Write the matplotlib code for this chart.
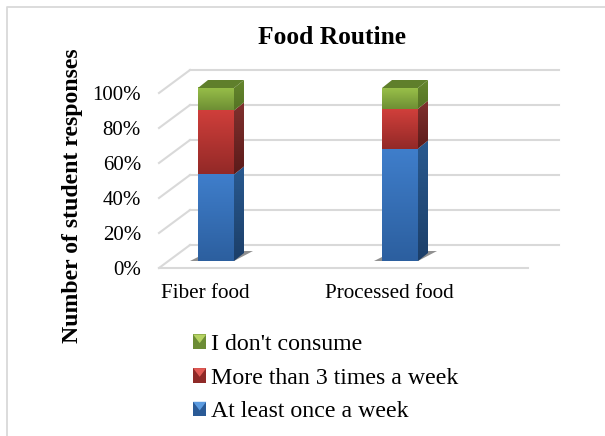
import numpy as np
import matplotlib
matplotlib.use("Agg")
import matplotlib.pyplot as plt
from matplotlib.colors import LinearSegmentedColormap
from matplotlib.legend_handler import HandlerBase
from matplotlib.patches import Patch, Polygon, Rectangle
from matplotlib.transforms import Affine2D

categories = ["Fiber food", "Processed food"]
series_names = ["At least once a week", "More than 3 times a week", "I don't consume"]
at_least_once = [50, 65]
more_than_3 = [37, 23]
dont_consume = [13, 12]
y_ticks = [0, 20, 40, 60, 80, 100]

# front light/dark, side light/dark for each series
front_cols = [("#3f7ecb", "#2c5f9f"), ("#d03f3b", "#932927"), ("#98bf49", "#6e8f34")]
side_cols = [("#29598f", "#1c3f69"), ("#80312e", "#5c1b1a"), ("#66872e", "#557324")]
top_col = "#5f7f2b"
swatch_cols = [("#5b9be0", "#2a5a96"), ("#e25a55", "#8f2a28"), ("#b5d262", "#6c8c35")]

W, H = 605, 436
DPI = 100
DEPTH = (31, 23)      # wall offset behind the front plane
BAR_SIDE = (10, 8)    # visible depth of a bar

plt.rcParams["font.family"] = ["Liberation Serif", "DejaVu Serif"]
fig = plt.figure(figsize=(W / DPI, H / DPI), dpi=DPI)


def px_axes(left, right, top, bottom):
    return fig.add_axes([left / W, 1 - bottom / H, (right - left) / W, (bottom - top) / H])


# light grey page frame
fig.add_artist(plt.Line2D([6.5 / W, 6.5 / W, 1], [0, 1 - 7.5 / H, 1 - 7.5 / H],
                          color="#d9d9d9", lw=1.3, transform=fig.transFigure))

# front plane carries the percent scale
ax = px_axes(159, 528, 93, 268)
ax.set_xlim(0, 2)
ax.set_ylim(0, 100)
ax.patch.set_visible(False)
for s in ax.spines.values():
    s.set_visible(False)
ax.set_xticks([0.25, 1.25], categories, fontsize=15.2)
ax.set_yticks(y_ticks, [f"{t}%" for t in y_ticks], fontsize=15)
ax.tick_params(length=0)
ax.tick_params(axis="x", pad=11.5)
ax.tick_params(axis="y", pad=13)
fig.text(72.5 / W, 1 - 196 / H, "Number of student responses", fontsize=17.1, fontweight="bold",
         rotation=90, ha="center", va="center")
fig.text(332 / W, 1 - 37 / H, "Food Routine", fontsize=18.4, fontweight="bold", ha="center", va="center")

wall = ax.transData + Affine2D().translate(DEPTH[0], DEPTH[1])
grid_col = "#d9d9d9"
for t in y_ticks:
    x0, y0 = ax.transData.transform((0, t))
    pts = np.array([[x0, y0], [x0 + DEPTH[0], y0 + DEPTH[1]]])
    ax.plot(pts[:, 0], pts[:, 1], color=grid_col, lw=1.5, transform=None, clip_on=False, zorder=1)
    ax.plot([0, 2.0], [t, t], color=grid_col, lw=1.5, transform=wall, clip_on=False, zorder=1)
ax.plot([0, 2], [0, 0], color=grid_col, lw=1.5, clip_on=False, zorder=1)

# bars stand a little behind the front plane on a slightly smaller scale
bx = px_axes(159, 528, 88, 261)
bx.set_xlim(0, 2)
bx.set_ylim(0, 100)
bx.axis("off")

bar_left = [(198 - 159) / 184.5, (382 - 159) / 184.5]
bar_w = 36 / 184.5


def gradient(target, c_top, c_bottom, extent):
    cmap = LinearSegmentedColormap.from_list("g", [c_top, c_bottom])
    im = bx.imshow(np.linspace(0, 1, 64).reshape(-1, 1), cmap=cmap, extent=extent, aspect="auto",
                   origin="upper", zorder=3, interpolation="bilinear")
    im.set_clip_path(target)
    # the side faces rise above the axes box
    im.set_clip_box(fig.bbox)


for i, left in enumerate(bar_left):
    x0, y0 = bx.transData.transform((left, 0))
    x1, _ = bx.transData.transform((left + bar_w, 0))
    # floor shadow, wider on the right and peeking out on the left
    shadow = Polygon([[x0 - 8, y0], [x1, y0], [x1 + 19, y0 + 10], [x1 + 6, y0 + 10], [x0, y0 + 4]],
                     closed=True, transform=None, fc="#555555", alpha=0.65, ec="none", zorder=2,
                     clip_on=False)
    bx.add_patch(shadow)
    base = 0
    for j, vals in enumerate([at_least_once, more_than_3, dont_consume]):
        top = base + vals[i]
        _, yb = bx.transData.transform((left, base))
        _, yt = bx.transData.transform((left, top))
        face = Rectangle((left, base), bar_w, vals[i], fc="none", ec="none", zorder=3)
        bx.add_patch(face)
        gradient(face, *front_cols[j], (left, left + bar_w, base, top))
        side = Polygon([[x1, yb], [x1 + BAR_SIDE[0], yb + BAR_SIDE[1]],
                        [x1 + BAR_SIDE[0], yt + BAR_SIDE[1]], [x1, yt]],
                       closed=True, transform=None, fc="none", ec="none", zorder=3)
        bx.add_patch(side)
        px_to_x = 2 / 369
        px_to_y = 100 / 173
        gradient(side, *side_cols[j], (left + bar_w, left + bar_w + BAR_SIDE[0] * px_to_x,
                                       base, top + BAR_SIDE[1] * px_to_y))
        base = top
    _, yt = bx.transData.transform((left, base))
    bx.add_patch(Polygon([[x0, yt], [x1, yt], [x1 + BAR_SIDE[0], yt + BAR_SIDE[1]],
                          [x0 + BAR_SIDE[0], yt + BAR_SIDE[1]]],
                         closed=True, transform=None, fc=top_col, ec="none", zorder=4,
                         clip_on=False))
bx.set_xlim(0, 2)
bx.set_ylim(0, 100)


class BevelHandler(HandlerBase):
    # small square with a lighter wedge along its top edge
    def create_artists(self, legend, orig, xdescent, ydescent, width, height, fontsize, trans):
        light, dark = orig.cols
        x, y, w, h = -xdescent, -ydescent, width, height
        body = Rectangle((x, y), w, h, fc=dark, ec="none", transform=trans)
        wedge = Polygon([[x, y + h], [x + w, y + h], [x + w / 2, y + h * 0.4]],
                        closed=True, fc=light, ec="none", transform=trans)
        return [body, wedge]


handles = []
for name, cols in zip(series_names, swatch_cols):
    p = Patch(label=name)
    p.cols = cols
    handles.append(p)

fig.legend(handles[::-1], series_names[::-1], loc="upper left", bbox_to_anchor=(174 / W, 1 - 315 / H),
           frameon=False, fontsize=17.2, labelspacing=0.53, handlelength=0.55, handleheight=0.55,
           handletextpad=0.2, borderpad=0.3, handler_map={Patch: BevelHandler()})

fig.savefig("out.png", dpi=DPI)
